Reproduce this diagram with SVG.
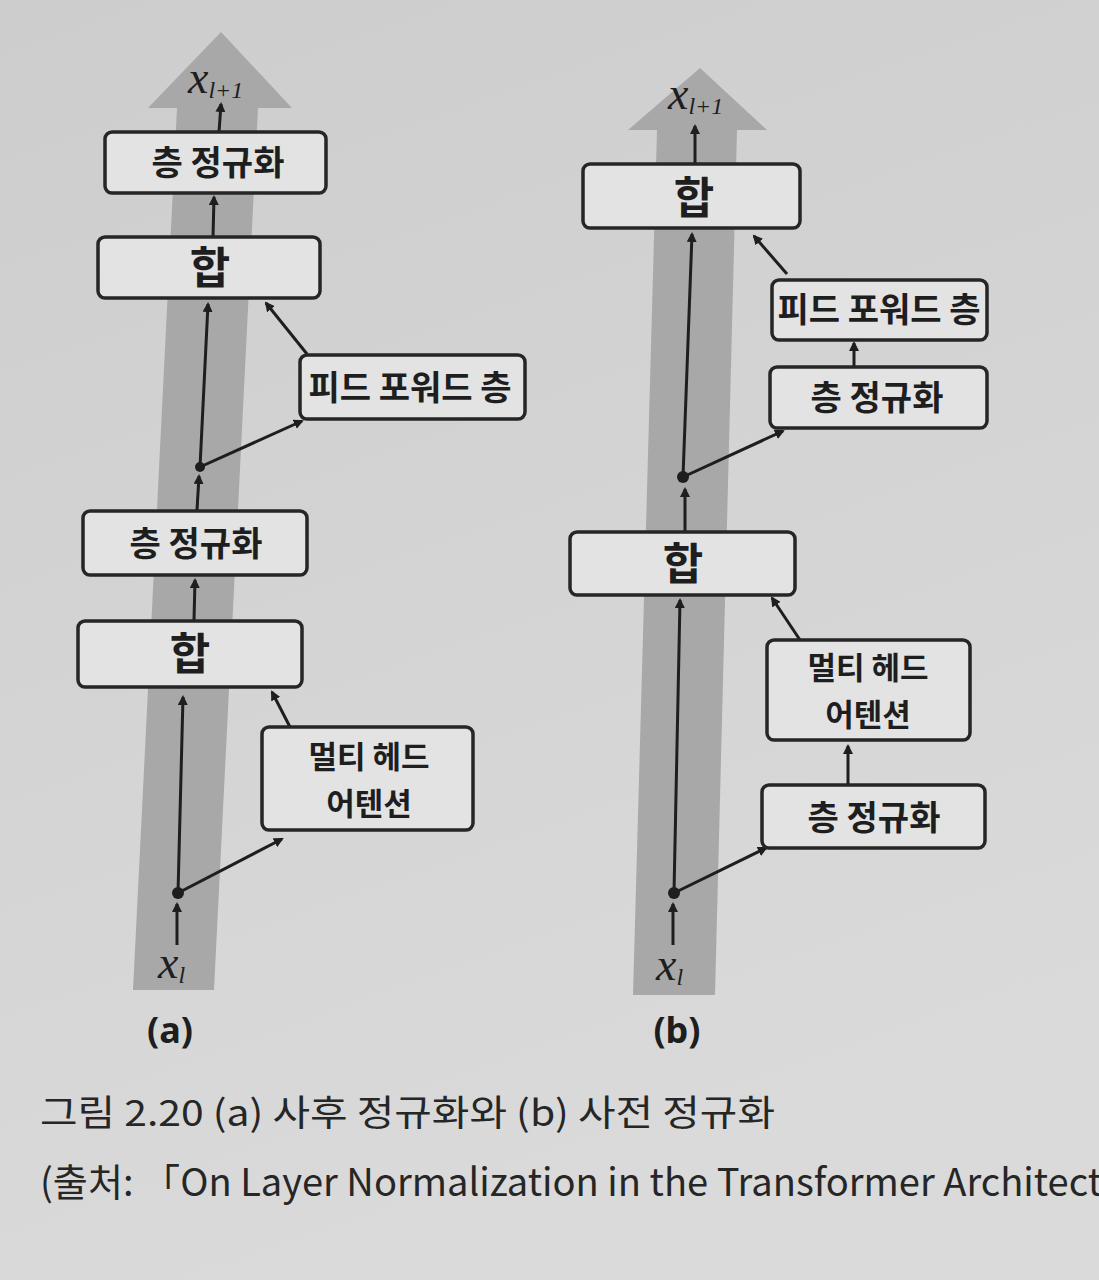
<svg xmlns="http://www.w3.org/2000/svg" width="1099" height="1280" viewBox="0 0 1099 1280">
<defs>
<linearGradient id="bg" x1="0" y1="0" x2="0.3" y2="1">
<stop offset="0" stop-color="#cdcdcd"/>
<stop offset="1" stop-color="#dadada"/>
</linearGradient>
<marker id="ah" markerWidth="10" markerHeight="10" refX="8" refY="5" orient="auto" markerUnits="userSpaceOnUse">
<path d="M0,0 L10,5 L0,10 Z" fill="#1e1e1e"/>
</marker>
<style>
.box{fill:#e3e3e3;stroke:#262626;stroke-width:3.5}
.lbl{font-family:"Noto Sans CJK KR","Noto Sans",sans-serif;font-weight:bold;font-size:34px;fill:#1e1e1e;text-anchor:middle}
.big{font-size:44px}
.two{font-size:31px}
.ln{stroke:#1e1e1e;stroke-width:3;fill:none;marker-end:url(#ah)}
.shaft{fill:#a8a8a8}
.var{font-family:"Liberation Serif",serif;font-style:italic;fill:#1e1e1e;font-size:46px}
.sub{font-family:"Liberation Serif",serif;font-style:italic;font-size:24px}
.tag{font-family:"Noto Sans","DejaVu Sans",sans-serif;font-weight:bold;font-size:36px;fill:#1e1e1e;text-anchor:middle}
.cap{font-family:"Noto Sans CJK KR","Noto Sans",sans-serif;fill:#262626}
</style>
</defs>
<rect width="1099" height="1280" fill="url(#bg)"/>

<g id="shaft-a">
<polygon class="shaft" points="221,32 292,108 258,108 214,990 133,990 177,108 148,108"/>
</g>
<g id="shaft-b">
<polygon class="shaft" points="700,68 767,130 737,130 715,995 633,995 657,130 628,130"/>
</g>

<g id="connectors">
<!-- (a) -->
<line class="ln" x1="177" y1="945" x2="177" y2="904"/>
<line class="ln" x1="178" y1="893" x2="183" y2="697"/>
<line class="ln" x1="178" y1="893" x2="282" y2="839"/>
<line class="ln" x1="290" y1="727" x2="272" y2="692"/>
<line class="ln" x1="194" y1="620" x2="195" y2="580"/>
<line class="ln" x1="197" y1="510" x2="199" y2="476"/>
<line class="ln" x1="200" y1="467" x2="208" y2="304"/>
<line class="ln" x1="200" y1="467" x2="302" y2="421"/>
<line class="ln" x1="307" y1="354" x2="266" y2="303"/>
<line class="ln" x1="213" y1="237" x2="214" y2="197"/>
<line class="ln" x1="219" y1="132" x2="221" y2="104"/>
<circle cx="178" cy="893" r="6" fill="#1e1e1e"/>
<circle cx="200" cy="467" r="5" fill="#1e1e1e"/>
<!-- (b) -->
<line class="ln" x1="673" y1="945" x2="673" y2="904"/>
<line class="ln" x1="674" y1="893" x2="680" y2="600"/>
<line class="ln" x1="674" y1="893" x2="766" y2="848"/>
<line class="ln" x1="800" y1="640" x2="772" y2="598"/>
<line class="ln" x1="848" y1="785" x2="848" y2="746"/>
<line class="ln" x1="685" y1="532" x2="685" y2="489"/>
<line class="ln" x1="683" y1="477" x2="692" y2="234"/>
<line class="ln" x1="683" y1="477" x2="783" y2="431"/>
<line class="ln" x1="787" y1="274" x2="754" y2="236"/>
<line class="ln" x1="854" y1="367" x2="854" y2="343"/>
<line class="ln" x1="695" y1="164" x2="695" y2="126"/>
<circle cx="674" cy="893" r="6" fill="#1e1e1e"/>
<circle cx="683" cy="477" r="6" fill="#1e1e1e"/>
</g>

<!-- (a) nodes -->
<g id="a-ln-top"><rect class="box" x="105" y="132" width="221" height="61" rx="7"/><text class="lbl" x="218" y="175">층 정규화</text></g>
<g id="a-add-top"><rect class="box" x="98" y="237" width="222" height="61" rx="7"/><text class="lbl big" x="210" y="284">합</text></g>
<g id="a-ffn"><rect class="box" x="300" y="355" width="225" height="64" rx="7"/><text class="lbl" x="410" y="400">피드 포워드 층</text></g>
<g id="a-ln-bottom"><rect class="box" x="83" y="511" width="224" height="64" rx="7"/><text class="lbl" x="196" y="556">층 정규화</text></g>
<g id="a-add-bottom"><rect class="box" x="78" y="621" width="224" height="66" rx="7"/><text class="lbl big" x="190" y="670">합</text></g>
<g id="a-mha"><rect class="box" x="262" y="727" width="211" height="103" rx="7"/><text class="lbl two" x="369" y="768">멀티 헤드</text><text class="lbl two" x="369" y="815">어텐션</text></g>
<g id="a-xl1"><text class="var" x="188" y="93">x<tspan class="sub" dy="5">l+1</tspan></text></g>
<g id="a-xl"><text class="var" x="158" y="978">x<tspan class="sub" dy="5">l</tspan></text></g>
<text class="tag" x="170" y="1043">(a)</text>

<!-- (b) nodes -->
<g id="b-add-top"><rect class="box" x="583" y="164" width="217" height="64" rx="7"/><text class="lbl big" x="694" y="214">합</text></g>
<g id="b-ffn"><rect class="box" x="772" y="280" width="215" height="60" rx="7"/><text class="lbl" x="879" y="322">피드 포워드 층</text></g>
<g id="b-ln-top"><rect class="box" x="770" y="367" width="217" height="61" rx="7"/><text class="lbl" x="877" y="410">층 정규화</text></g>
<g id="b-add-bottom"><rect class="box" x="570" y="532" width="225" height="63" rx="7"/><text class="lbl big" x="683" y="580">합</text></g>
<g id="b-mha"><rect class="box" x="767" y="640" width="203" height="100" rx="7"/><text class="lbl two" x="868" y="679">멀티 헤드</text><text class="lbl two" x="868" y="726">어텐션</text></g>
<g id="b-ln-bottom"><rect class="box" x="762" y="785" width="223" height="63" rx="7"/><text class="lbl" x="874" y="830">층 정규화</text></g>
<g id="b-xl1"><text class="var" x="668" y="109">x<tspan class="sub" dy="5">l+1</tspan></text></g>
<g id="b-xl"><text class="var" x="656" y="980">x<tspan class="sub" dy="5">l</tspan></text></g>
<text class="tag" x="677" y="1043">(b)</text>

<text class="cap" x="40" y="1126" font-size="36" textLength="735" lengthAdjust="spacingAndGlyphs">그림 2.20 (a) 사후 정규화와 (b) 사전 정규화</text>
<text class="cap" x="40" y="1196" font-size="38" textLength="1062" lengthAdjust="spacingAndGlyphs">(출처: 「On Layer Normalization in the Transformer Architect</text>
</svg>
